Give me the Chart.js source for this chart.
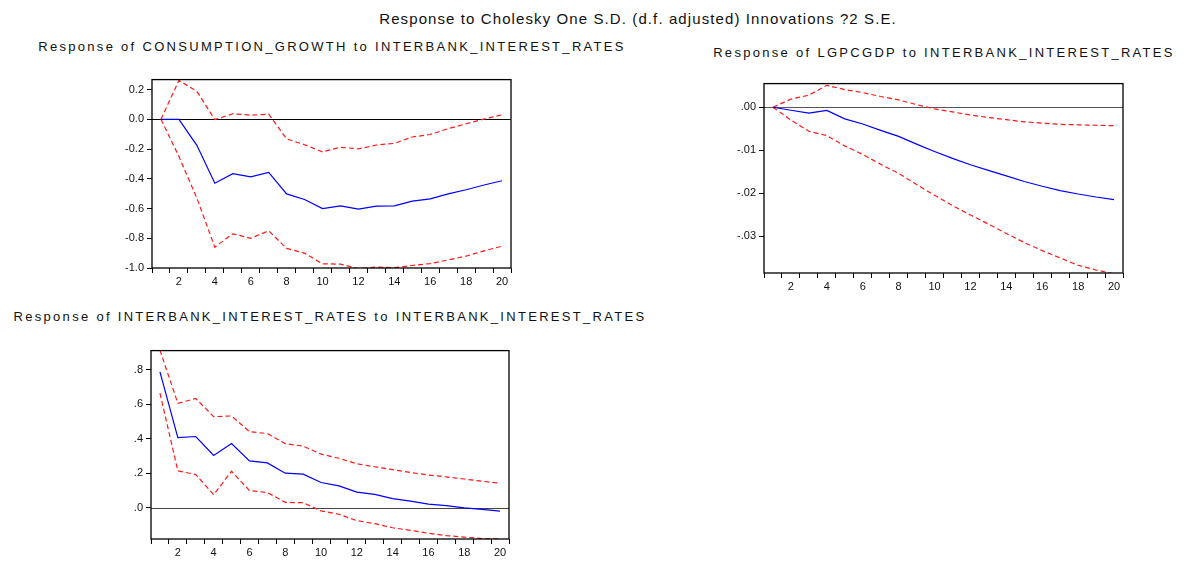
<!DOCTYPE html>
<html>
<head>
<meta charset="utf-8">
<script src="https://cdn.jsdelivr.net/npm/chart.js@4.4.1/dist/chart.umd.min.js"></script>
<style>
  html, body { margin: 0; padding: 0; background: #fff; }
  body { width: 1186px; height: 561px; position: relative; overflow: hidden; font-family: "Liberation Sans", Arial, sans-serif; color: #111; }
  .title { position: absolute; white-space: nowrap; transform: translateX(-50%); }
  .main { font-size: 15px; letter-spacing: 1.1px; }
  .sub { font-size: 13px; letter-spacing: 2.3px; }
  canvas { position: absolute; }
</style>
</head>
<body>
<div class="title main" style="left:638px; top:10px;">Response to Cholesky One S.D. (d.f. adjusted) Innovations ?2 S.E.</div>
<div class="title sub" style="left:332px; top:39px;">Response of CONSUMPTION_GROWTH to INTERBANK_INTEREST_RATES</div>
<div class="title sub" style="left:944px; top:45px;">Response of LGPCGDP to INTERBANK_INTEREST_RATES</div>
<div class="title sub" style="left:330px; top:309px;">Response of INTERBANK_INTEREST_RATES to INTERBANK_INTEREST_RATES</div>

<canvas id="c1"></canvas>
<canvas id="c2"></canvas>
<canvas id="c3"></canvas>

<script>
const periods = [1, 2, 3, 4, 5, 6, 7, 8, 9, 10, 11, 12, 13, 14, 15, 16, 17, 18, 19, 20];

// CONSUMPTION_GROWTH response
const consResp = [0, 0, -0.175, -0.43, -0.366, -0.387, -0.357, -0.502, -0.539, -0.60,
  -0.582, -0.604, -0.584, -0.582, -0.55, -0.535, -0.502, -0.474, -0.442, -0.413];
const consUpper = [0, 0.262, 0.188, -0.002, 0.037, 0.028, 0.035, -0.132, -0.171, -0.219,
  -0.188, -0.199, -0.173, -0.162, -0.119, -0.102, -0.063, -0.030, 0.002, 0.030];
const consLower = [0, -0.25, -0.53, -0.86, -0.77, -0.80, -0.75, -0.868, -0.90, -0.972,
  -0.974, -1.004, -0.994, -0.998, -0.983, -0.97, -0.946, -0.92, -0.885, -0.853];
const consTicks = [0.2, 0.0, -0.2, -0.4, -0.6, -0.8, -1.0];
const consTickLabels = ['0.2', '0.0', '-0.2', '-0.4', '-0.6', '-0.8', '-1.0'];

// LGPCGDP response
const gdpResp = [0, -0.0007, -0.00135, -0.00075, -0.0027, -0.0039, -0.0054, -0.0068, -0.0086, -0.0103,
  -0.0119, -0.0134, -0.0147, -0.016, -0.0173, -0.0184, -0.0194, -0.0202, -0.0209, -0.0215];
const gdpUpper = [0, 0.0019, 0.0028, 0.0051, 0.0041, 0.0034, 0.0025, 0.0017, 0.0006, -0.0004,
  -0.0011, -0.0018, -0.0024, -0.0029, -0.0034, -0.0037, -0.004, -0.0041, -0.0042, -0.0043];
const gdpLower = [0, -0.003, -0.0056, -0.0066, -0.009, -0.011, -0.0133, -0.0154, -0.018, -0.0205,
  -0.0229, -0.0251, -0.0272, -0.0294, -0.0315, -0.0334, -0.0351, -0.0368, -0.0379, -0.0388];
const gdpTicks = [0.0, -0.01, -0.02, -0.03];
const gdpTickLabels = ['.00', '-.01', '-.02', '-.03'];

// INTERBANK_INTEREST_RATES own response
const rateResp = [0.787, 0.406, 0.413, 0.303, 0.372, 0.272, 0.26, 0.201, 0.195, 0.147,
  0.127, 0.091, 0.078, 0.054, 0.039, 0.022, 0.013, 0.0, -0.009, -0.019];
const rateUpper = [0.913, 0.605, 0.633, 0.528, 0.532, 0.441, 0.43, 0.372, 0.357, 0.311,
  0.287, 0.255, 0.238, 0.221, 0.205, 0.19, 0.179, 0.167, 0.154, 0.143];
const rateLower = [0.664, 0.214, 0.193, 0.076, 0.212, 0.1, 0.089, 0.032, 0.03, -0.017,
  -0.037, -0.074, -0.091, -0.115, -0.13, -0.147, -0.16, -0.169, -0.177, -0.18];
const rateTicks = [0.8, 0.6, 0.4, 0.2, 0.0];
const rateTickLabels = ['.8', '.6', '.4', '.2', '.0'];

const YAXIS_W = 50, XAXIS_H = 30, PAD = 3;

// box round the plot and the zero line
const framePlugin = {
  id: 'frame',
  beforeDatasetsDraw(chart) {
    const { ctx, chartArea: a, scales: { y } } = chart;
    const y0 = Math.round(y.getPixelForValue(0)) + 0.5;
    ctx.save();
    ctx.strokeStyle = chart.options.plugins.frame.zeroColor;
    ctx.lineWidth = 1;
    ctx.beginPath();
    ctx.moveTo(a.left, y0);
    ctx.lineTo(a.right, y0);
    ctx.stroke();
    ctx.restore();
  },
  afterDatasetsDraw(chart) {
    const { ctx, chartArea: a } = chart;
    ctx.save();
    ctx.strokeStyle = '#000';
    ctx.lineWidth = 1.3;
    ctx.strokeRect(a.left, a.top, a.right - a.left, a.bottom - a.top);
    ctx.restore();
  }
};

function makePanel(id, area, resp, upper, lower, yMin, yMax, ticks, tickLabels, zeroColor) {
  const cv = document.getElementById(id);
  const w = area.right - area.left + YAXIS_W + PAD;
  const h = area.bottom - area.top + XAXIS_H + PAD;
  cv.style.left = (area.left - YAXIS_W) + 'px';
  cv.style.top = (area.top - PAD) + 'px';
  cv.style.width = w + 'px';
  cv.style.height = h + 'px';
  cv.width = w;
  cv.height = h;

  const band = (data) => ({
    data: data,
    borderColor: '#ff1a1a',
    borderWidth: 1.2,
    borderDash: [5, 3],
    pointRadius: 0,
    tension: 0
  });

  new Chart(cv.getContext('2d'), {
    type: 'line',
    data: {
      labels: periods,
      datasets: [
        { data: resp, borderColor: '#0000ff', borderWidth: 1.2, pointRadius: 0, tension: 0 },
        band(upper),
        band(lower)
      ]
    },
    options: {
      responsive: false,
      animation: false,
      events: [],
      layout: { padding: { top: PAD, right: PAD, left: 0, bottom: 0 } },
      plugins: {
        legend: { display: false },
        tooltip: { enabled: false },
        frame: { zeroColor: zeroColor }
      },
      scales: {
        x: {
          type: 'category',
          offset: true,
          afterFit: (s) => { s.height = XAXIS_H; },
          border: { display: false },
          grid: {
            offset: true,
            drawOnChartArea: false,
            drawTicks: true,
            tickLength: 5,
            color: '#000',
            lineWidth: 1
          },
          ticks: {
            autoSkip: false,
            maxRotation: 0,
            padding: 2,
            color: '#111',
            font: { family: 'Liberation Sans', size: 11 },
            callback: (v, i) => (i % 2 === 1 ? String(periods[i]) : '')
          }
        },
        y: {
          min: yMin,
          max: yMax,
          afterFit: (s) => { s.width = YAXIS_W; },
          afterBuildTicks: (s) => { s.ticks = ticks.map(v => ({ value: v })); },
          border: { display: false },
          grid: {
            drawOnChartArea: false,
            drawTicks: true,
            tickLength: 5,
            color: '#000',
            lineWidth: 1
          },
          ticks: {
            padding: 3,
            color: '#111',
            font: { family: 'Liberation Sans', size: 11 },
            callback: (v) => {
              const i = ticks.findIndex(t => Math.abs(t - v) < 1e-9);
              return i >= 0 ? tickLabels[i] : '';
            }
          }
        }
      }
    },
    plugins: [framePlugin]
  });
}

makePanel('c1', { left: 152, right: 511, top: 73, bottom: 268 },
  consResp, consUpper, consLower, -1.0, 0.267, consTicks, consTickLabels, '#000');
makePanel('c2', { left: 764, right: 1123, top: 77, bottom: 273 },
  gdpResp, gdpUpper, gdpLower, -0.0386, 0.0055, gdpTicks, gdpTickLabels, '#555');
makePanel('c3', { left: 151, right: 509, top: 344, bottom: 539 },
  rateResp, rateUpper, rateLower, -0.18, 0.91, rateTicks, rateTickLabels, '#444');
</script>
</body>
</html>
